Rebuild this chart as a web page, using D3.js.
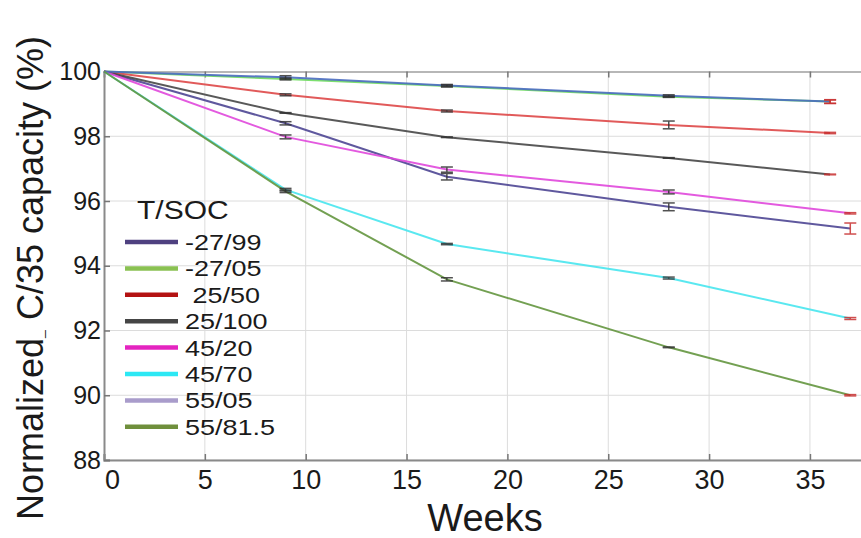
<!DOCTYPE html>
<html>
<head>
<meta charset="utf-8">
<script src="https://cdn.jsdelivr.net/npm/d3@7"></script>
<style>
  body { margin: 0; background: #fff; }
  svg { display: block; font-family: "Liberation Sans", Arial, sans-serif; }
</style>
</head>
<body>
<svg id="chart" width="861" height="538"></svg>
<script>
// series
var labels = ["-27/99", "-27/05", " 25/50", "25/100", "45/20", "45/70", "55/05", "55/81.5"]
var lineColors = ["#4e4694", "#6fdc5f", "#de4848", "#474747", "#e048dc", "#48e6ee", "#4a6cc0", "#64963f"]
var legendColors = ["#4f4180", "#8ac152", "#b41212", "#454545", "#e424c0", "#2ce8f4", "#a99ccb", "#6f8f3c"]
var weeksA = [0, 9, 17, 28, 37]
var weeksB = [0, 9, 17, 28, 36]
var seriesWeeks = [weeksA, weeksB, weeksB, weeksB, weeksA, weeksA, weeksB, weeksA]
var values = [
  [100, 98.40, 96.75, 95.82, 95.15],
  [100, 99.77, 99.55, 99.22, 99.07],
  [100, 99.28, 98.78, 98.35, 98.10],
  [100, 98.72, 97.97, 97.33, 96.82],
  [100, 97.98, 96.97, 96.28, 95.62],
  [100, 96.35, 94.67, 93.62, 92.37],
  [100, 99.82, 99.57, 99.25, 99.07],
  [100, 96.30, 93.58, 91.48, 90.00]
]
var errors = [
  [0, 0.05, 0.10, 0.12, 0.17],
  [0, 0.03, 0.03, 0.02, 0.05],
  [0, 0.03, 0.03, 0.12, 0.02],
  [0, 0.01, 0.01, 0.01, 0.01],
  [0, 0.06, 0.08, 0.06, 0.02],
  [0, 0.04, 0.02, 0.03, 0.03],
  [0, 0.05, 0.03, 0.03, 0.06],
  [0, 0.04, 0.05, 0.01, 0.02]
]
var xTicks = [0, 5, 10, 15, 20, 25, 30, 35]
var yTicks = [88, 90, 92, 94, 96, 98, 100]

var svg = d3.select("#chart")

var x = d3.scaleLinear().domain([0, 38]).range([104, 104 + 38 * 20.17])
var y = d3.scaleLinear().domain([88, 100]).range([460, 71.5])

// grid
svg.append("g").selectAll("line").data(xTicks.slice(1)).enter().append("line")
  .attr("x1", d => x(d)).attr("x2", d => x(d))
  .attr("y1", y(100)).attr("y2", y(88))
  .attr("stroke", "#dcdcdc").attr("stroke-width", 1)
svg.append("g").selectAll("line").data(yTicks.slice(0, -1)).enter().append("line")
  .attr("x1", x(0)).attr("x2", 861)
  .attr("y1", d => y(d)).attr("y2", d => y(d))
  .attr("stroke", "#dcdcdc").attr("stroke-width", 1)

// axes (inward ticks, top frame without labels)
var xAxis = d3.axisBottom(x).tickValues(xTicks).tickSize(-6).tickPadding(10)
var gx = svg.append("g").attr("transform", "translate(0," + y(88) + ")").call(xAxis)
var xTop = d3.axisTop(x).tickValues(xTicks).tickSize(-6).tickFormat("")
var gt = svg.append("g").attr("transform", "translate(0," + y(100) + ")").call(xTop)
var yAxis = d3.axisLeft(y).tickValues(yTicks).tickSize(-6).tickPadding(3)
var gy = svg.append("g").attr("transform", "translate(" + x(0) + ",0)").call(yAxis)

;[gx, gt, gy].forEach(g => {
  g.select(".domain").attr("stroke", "#8a8a8a").attr("stroke-width", 2)
  g.selectAll(".tick line").attr("stroke", "#777").attr("stroke-width", 1.5)
})
gt.select(".domain").attr("stroke", "#a0a0a0").attr("stroke-width", 1.5)
gx.selectAll(".tick text").attr("font-size", 27).attr("fill", "#1a1a1a")
  .attr("font-family", "Liberation Sans, Arial, sans-serif")
gx.selectAll(".tick text").filter(d => d === 0).attr("dx", 8)
gy.selectAll(".tick text").attr("font-size", 25).attr("fill", "#1a1a1a")
  .attr("font-family", "Liberation Sans, Arial, sans-serif")

// lines
var line = d3.line().x(d => x(d[0])).y(d => y(d[1]))
values.forEach(function (vals, i) {
  var pts = vals.map((v, j) => [seriesWeeks[i][j], v])
  svg.append("path").datum(pts)
    .attr("d", line)
    .attr("fill", "none")
    .attr("stroke", lineColors[i])
    .attr("stroke-width", 2)
    .attr("opacity", 0.9)
})

// error bars
values.forEach(function (vals, i) {
  vals.forEach(function (v, j) {
    if (j === 0) return
    var e = errors[i][j]
    var cx = x(seriesWeeks[i][j])
    var col = (j === vals.length - 1) ? "#c83030" : "#333"
    var g = svg.append("g").attr("stroke", col).attr("stroke-width", 1.5).attr("opacity", 0.85)
    g.append("line").attr("x1", cx).attr("x2", cx).attr("y1", y(v - e)).attr("y2", y(v + e))
    g.append("line").attr("x1", cx - 6).attr("x2", cx + 6).attr("y1", y(v - e)).attr("y2", y(v - e))
    g.append("line").attr("x1", cx - 6).attr("x2", cx + 6).attr("y1", y(v + e)).attr("y2", y(v + e))
  })
})

// legend
svg.append("text").attr("transform", "translate(137,219) scale(1.2,1)")
  .attr("font-size", 25).attr("fill", "#1a1a1a").text("T/SOC")
var leg = svg.append("g").selectAll("g").data(labels).enter().append("g")
  .attr("transform", (d, i) => "translate(0," + (242 + i * 26.4) + ")")
leg.append("line").attr("x1", 125).attr("x2", 178).attr("y1", 0).attr("y2", 0)
  .attr("stroke", (d, i) => legendColors[i]).attr("stroke-width", 4.5)
leg.append("text")
  .attr("transform", "translate(185,8) scale(1.2,1)")
  .attr("font-size", 22.5).attr("fill", "#1a1a1a")
  .attr("xml:space", "preserve")
  .text(d => d)

// axis titles
svg.append("text").attr("x", 485).attr("y", 531)
  .attr("text-anchor", "middle").attr("font-size", 38).attr("fill", "#1a1a1a")
  .text("Weeks")
var yl = svg.append("text")
  .attr("transform", "translate(43,278) rotate(-90)")
  .attr("text-anchor", "middle").attr("font-size", 36).attr("fill", "#1a1a1a")
yl.append("tspan").text("Normalized")
yl.append("tspan").attr("font-size", 14).text("_")
yl.append("tspan").text(" C/35 capacity (%)")
</script>
</body>
</html>
